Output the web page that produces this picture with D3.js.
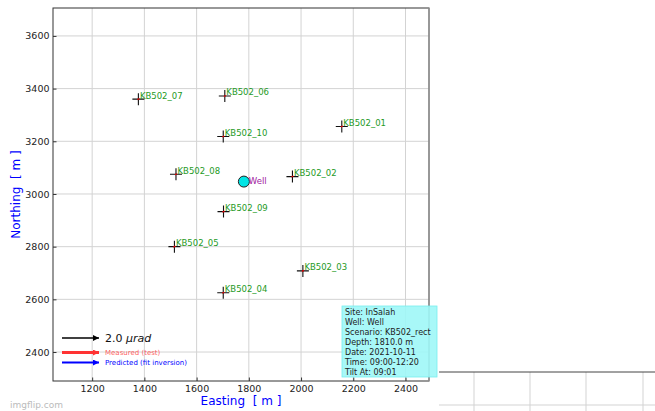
<!DOCTYPE html>
<html>
<head>
<meta charset="utf-8">
<script src="https://cdn.jsdelivr.net/npm/d3@7"></script>
<style>
  body { margin: 0; background: #fff; }
  svg { display: block; font-family: "DejaVu Sans", sans-serif; }
  text { white-space: pre; }
</style>
</head>
<body>
<div id="chart"></div>
<script>

// stations (tiltmeters)
var stationNames = ["KB502_01", "KB502_02", "KB502_03", "KB502_04", "KB502_05",
                    "KB502_06", "KB502_07", "KB502_08", "KB502_09", "KB502_10"];
var stationEast  = [2156, 1967, 2007, 1702, 1515, 1708, 1377, 1521, 1703, 1702];
var stationNorth = [3256, 3066, 2708, 2625, 2800, 3372, 3360, 3075, 2933, 3218];

var wellName = "Well";
var wellEast = 1781, wellNorth = 3047;

var xTicks = [1200, 1400, 1600, 1800, 2000, 2200, 2400];
var yTicks = [2400, 2600, 2800, 3000, 3200, 3400, 3600];

var legendLabels = ["Measured (test)", "Predicted (fit inversion)"];
var legendColors = ["#ff3333", "#0000ff"];

var infoLines = ["Site: InSalah", "Well: Well", "Scenario: KB502_rect", "Depth: 1810.0 m",
                 "Date: 2021-10-11", "Time: 09:00-12:20", "Tilt At: 09:01"];

var W = 655, H = 411;
var margin = {left: 53, right: 226, top: 8, bottom: 30};

var svg = d3.select("#chart").append("svg")
    .attr("width", W).attr("height", H);

var x = d3.scaleLinear().domain([1050, 2490]).range([margin.left, W - margin.right]);
var y = d3.scaleLinear().domain([2290, 3706]).range([H - margin.bottom, margin.top]);

var x0 = x.range()[0], x1 = x.range()[1], y0 = y.range()[1], y1 = y.range()[0];

// grid
svg.append("g").selectAll("line").data(xTicks).enter().append("line")
    .attr("x1", function(d) { return x(d); }).attr("x2", function(d) { return x(d); })
    .attr("y1", y0).attr("y2", y1)
    .attr("stroke", "#d3d3d3").attr("stroke-width", 1);
svg.append("g").selectAll("line").data(yTicks).enter().append("line")
    .attr("y1", function(d) { return y(d); }).attr("y2", function(d) { return y(d); })
    .attr("x1", x0).attr("x2", x1)
    .attr("stroke", "#d3d3d3").attr("stroke-width", 1);

// axes (inward ticks)
var xAxis = svg.append("g").attr("transform", "translate(0," + y1 + ")")
    .call(d3.axisBottom(x).tickValues(xTicks).tickSize(-3.5).tickPadding(4).tickFormat(d3.format("d")));
var yAxis = svg.append("g").attr("transform", "translate(" + x0 + ",0)")
    .call(d3.axisLeft(y).tickValues(yTicks).tickSize(-3.5).tickPadding(3.5).tickFormat(d3.format("d")));
[xAxis, yAxis].forEach(function(a) {
  a.select(".domain").remove();
  a.selectAll("line").attr("stroke", "#333");
  a.selectAll("text").attr("font-family", "DejaVu Sans").attr("font-size", 9.5).attr("fill", "#222");
});

// spines
svg.append("rect").attr("x", x0).attr("y", y0).attr("width", x1 - x0).attr("height", y1 - y0)
    .attr("fill", "none").attr("stroke", "#333").attr("stroke-width", 1);
svg.append("line").attr("x1", x1).attr("x2", x1).attr("y1", y0).attr("y2", y1)
    .attr("stroke", "#999").attr("stroke-width", 1.5);

// axis titles
svg.append("text").attr("x", (x0 + x1) / 2).attr("y", 404.5)
    .attr("text-anchor", "middle").attr("fill", "#0000ff").attr("font-size", 12)
    .text("Easting  [ m ]");
svg.append("text").attr("transform", "translate(20," + ((y0 + y1) / 2) + ") rotate(-90)")
    .attr("text-anchor", "middle").attr("fill", "#0000ff").attr("font-size", 12)
    .text("Northing  [ m ]");

// stations
var st = svg.append("g").selectAll("g").data(stationNames).enter().append("g")
    .attr("transform", function(d, i) { return "translate(" + x(stationEast[i]) + "," + y(stationNorth[i]) + ")"; });
st.append("path").attr("d", "M-6,0H6M0,-6V6").attr("stroke", "#111").attr("stroke-width", 1.1);
st.append("path").attr("d", "M-1,0.5L1,-0.5").attr("stroke", "#e00").attr("stroke-width", 1.2);
st.append("text").attr("x", 1.5).attr("y", -0.5)
    .attr("fill", "#1e9a1e").attr("font-size", 8.5)
    .text(function(d) { return d; });

// well
svg.append("circle").attr("cx", x(wellEast)).attr("cy", y(wellNorth)).attr("r", 5.5)
    .attr("fill", "#00e5e5").attr("stroke", "#222").attr("stroke-width", 1);
svg.append("text").attr("x", x(wellEast) + 5).attr("y", y(wellNorth) + 2)
    .attr("fill", "#a020a0").attr("font-size", 8.5).text(wellName);

// legend arrows
var defs = svg.append("defs");
function head(id, col) {
  defs.append("marker").attr("id", id).attr("viewBox", "0 0 10 10")
      .attr("refX", 10).attr("refY", 5).attr("markerWidth", 6).attr("markerHeight", 6)
      .attr("markerUnits", "userSpaceOnUse").attr("orient", "auto")
      .append("path").attr("d", "M0,0L10,5L0,10Z").attr("fill", col);
}
head("hk", "#000");
head("hr", "#ff3333");
head("hb", "#0000ff");

var lx0 = 62, lx1 = 99;
svg.append("line").attr("x1", lx0).attr("x2", lx1).attr("y1", 338).attr("y2", 338)
    .attr("stroke", "#000").attr("stroke-width", 1.5).attr("marker-end", "url(#hk)");
var lt = svg.append("text").attr("x", 105).attr("y", 342).attr("font-size", 11).attr("fill", "#111");
lt.append("tspan").text("2.0 ");
lt.append("tspan").attr("font-style", "italic").text("μrad");

legendLabels.forEach(function(l, i) {
  var ly = 352.5 + i * 10;
  svg.append("line").attr("x1", lx0).attr("x2", lx1).attr("y1", ly).attr("y2", ly)
      .attr("stroke", legendColors[i]).attr("stroke-width", i === 0 ? 3 : 1.8)
      .attr("marker-end", "url(#" + (i === 0 ? "hr" : "hb") + ")");
  svg.append("text").attr("x", 105).attr("y", ly + 2.5).attr("font-size", 7)
      .attr("fill", legendColors[i]).attr("fill-opacity", i === 0 ? 0.8 : 1).text(l);
});

// info box
svg.append("rect").attr("x", 342).attr("y", 306).attr("width", 95).attr("height", 71)
    .attr("fill", "#9ff7f7").attr("fill-opacity", 0.9).attr("stroke", "#7ee").attr("stroke-width", 0.8);
svg.append("g").selectAll("text").data(infoLines).enter().append("text")
    .attr("x", 345).attr("y", function(d, i) { return 315 + i * 10; })
    .attr("font-size", 8).attr("fill", "#222").text(function(d) { return d; });

// second (cut-off) axes at bottom right
var x2 = [474, 530, 586, 643];
svg.append("g").selectAll("line").data(x2).enter().append("line")
    .attr("x1", function(d) { return d; }).attr("x2", function(d) { return d; })
    .attr("y1", 372).attr("y2", H)
    .attr("stroke", "#d3d3d3");
svg.append("line").attr("x1", 439).attr("x2", W).attr("y1", 405).attr("y2", 405)
    .attr("stroke", "#d3d3d3");
svg.append("line").attr("x1", 439).attr("x2", W).attr("y1", 372).attr("y2", 372)
    .attr("stroke", "#444").attr("stroke-width", 1);

// watermark
svg.append("text").attr("x", 10).attr("y", 408).attr("font-size", 9)
    .attr("fill", "#bbb").text("imgflip.com");

</script>
</body>
</html>
